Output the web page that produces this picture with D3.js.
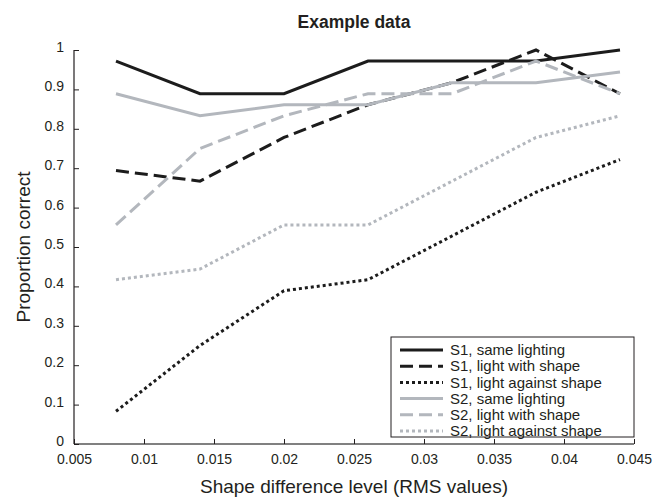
<!DOCTYPE html>
<html>
<head>
<meta charset="utf-8">
<script src="https://cdn.jsdelivr.net/npm/d3@7"></script>
<style>
  body { margin: 0; background: #fff; }
  text { font-family: "Liberation Sans", Arial, sans-serif; fill: #231f20; }
</style>
</head>
<body>
<div id="chart"></div>
<script>
const width = 667, height = 497;
const margin = {top: 50, right: 33, bottom: 53, left: 74};

// data
const levels = [0.008, 0.014, 0.020, 0.026, 0.032, 0.038, 0.044];
const seriesNames = ["S1, same lighting", "S1, light with shape", "S1, light against shape",
                     "S2, same lighting", "S2, light with shape", "S2, light against shape"];
const s1Same    = [0.972, 0.889, 0.889, 0.972, 0.972, 0.972, 1.000];
const s1With    = [0.694, 0.667, 0.778, 0.861, 0.917, 1.000, 0.889];
const s1Against = [0.083, 0.250, 0.389, 0.417, 0.528, 0.639, 0.722];
const s2Same    = [0.889, 0.833, 0.861, 0.861, 0.917, 0.917, 0.944];
const s2With    = [0.556, 0.750, 0.833, 0.889, 0.889, 0.972, 0.889];
const s2Against = [0.417, 0.444, 0.556, 0.556, 0.667, 0.778, 0.833];
const xTicks = [0.005, 0.01, 0.015, 0.02, 0.025, 0.03, 0.035, 0.04, 0.045];
const yTicks = [0, 0.1, 0.2, 0.3, 0.4, 0.5, 0.6, 0.7, 0.8, 0.9, 1];

const allSeries = [s1Same, s1With, s1Against, s2Same, s2With, s2Against];
const colors = ["#1c1c1c", "#1c1c1c", "#1c1c1c", "#b3b7bd", "#b3b7bd", "#b3b7bd"];
const dashes = [null, "13,6", "3,3", null, "13,6", "3,3"];

const svg = d3.select("#chart").append("svg")
  .attr("width", width)
  .attr("height", height);

const w = width - margin.left - margin.right;
const h = height - margin.top - margin.bottom;

const g = svg.append("g")
  .attr("transform", "translate(" + margin.left + "," + margin.top + ")");

let x = d3.scaleLinear().domain([0.005, 0.045]).range([0, w]);
let y = d3.scaleLinear().domain([0, 1]).range([h, 0]);

// Axes (ticks point inward)
const xAxis = g.append("g")
  .attr("transform", "translate(0," + h + ")")
  .call(d3.axisBottom(x).tickValues(xTicks).tickSize(-5).tickPadding(10)
    .tickFormat(d => d3.format("")(+d.toFixed(3))));
xAxis.select(".domain").attr("stroke", "#808080").attr("stroke-width", 2);
xAxis.selectAll(".tick line").attr("stroke", "#231f20");
xAxis.selectAll(".tick text").style("font-size", "14px").attr("fill", "#231f20");

const yAxis = g.append("g")
  .call(d3.axisLeft(y).tickValues(yTicks).tickSize(-5).tickPadding(10)
    .tickFormat(d => d3.format("")(+d.toFixed(1))));
yAxis.select(".domain").attr("stroke", "#231f20").attr("stroke-width", 1.2);
yAxis.selectAll(".tick line").attr("stroke", "#231f20");
yAxis.selectAll(".tick text").style("font-size", "14px").attr("fill", "#231f20")
  .attr("y", -3);

// remove the outer tick caps
xAxis.select(".domain").attr("d", "M0,0H" + w);
yAxis.select(".domain").attr("d", "M0," + h + "V0");

// Lines
const line = d3.line()
  .x((d, i) => x(levels[i]))
  .y(d => y(d));

allSeries.forEach((s, i) => {
  g.append("path")
    .datum(s)
    .attr("fill", "none")
    .attr("stroke", colors[i])
    .attr("stroke-width", 3)
    .attr("stroke-dasharray", dashes[i])
    .attr("d", line);
});

// Title
svg.append("text")
  .attr("x", margin.left + w / 2)
  .attr("y", 28)
  .attr("text-anchor", "middle")
  .style("font-size", "17.5px")
  .style("font-weight", "bold")
  .text("Example data");

// Axis labels
svg.append("text")
  .attr("x", margin.left + w / 2)
  .attr("y", 493)
  .attr("text-anchor", "middle")
  .style("font-size", "19px")
  .text("Shape difference level (RMS values)");

svg.append("text")
  .attr("transform", "translate(30," + (margin.top + h / 2) + ") rotate(-90)")
  .attr("text-anchor", "middle")
  .style("font-size", "19px")
  .text("Proportion correct");

// Legend
const legX = 391 - margin.left, legY = 337 - margin.top;
const legend = g.append("g").attr("transform", "translate(" + legX + "," + legY + ")");
legend.append("rect")
  .attr("width", w - legX)
  .attr("height", 100)
  .attr("fill", "#fff")
  .attr("stroke", "#231f20")
  .attr("stroke-width", 1);

const legendRow = legend.selectAll(".legend")
  .data(seriesNames)
  .enter().append("g")
  .attr("class", "legend")
  .attr("transform", (d, i) => "translate(0," + (13 + i * 16.2) + ")");

legendRow.append("line")
  .attr("x1", 9).attr("x2", 52)
  .attr("stroke", (d, i) => colors[i])
  .attr("stroke-width", 3)
  .attr("stroke-dasharray", (d, i) => dashes[i]);

legendRow.append("text")
  .attr("x", 59)
  .attr("dy", "0.35em")
  .style("font-size", "15px")
  .text(d => d);
</script>
</body>
</html>
